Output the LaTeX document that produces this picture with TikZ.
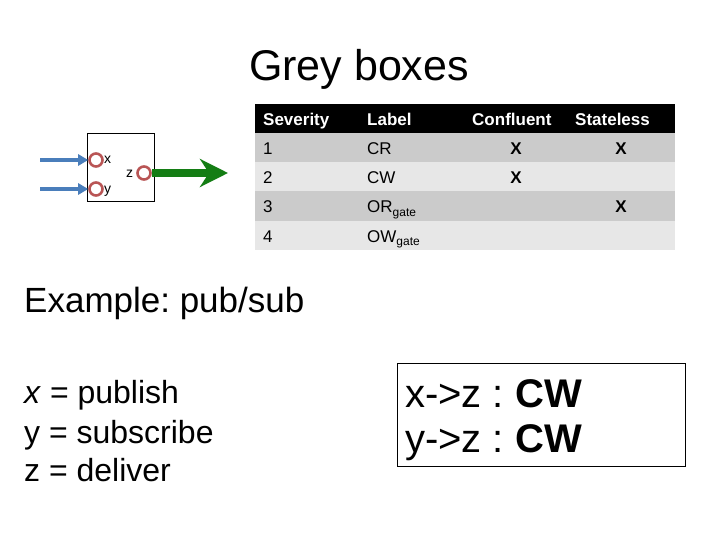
\documentclass[tikz,border=0pt]{standalone}
\usepackage{fontspec}
\setmainfont{Liberation Sans}
\frenchspacing
\usetikzlibrary{arrows.meta}
\definecolor{portred}{RGB}{185,85,85}
\definecolor{arrowblue}{RGB}{74,126,187}
\definecolor{arrowgreen}{RGB}{20,125,20}
\definecolor{rowdark}{RGB}{203,203,203}
\definecolor{rowlight}{RGB}{231,231,231}
\begin{document}
\begin{tikzpicture}[x=1pt,y=-1pt,
  port/.style={circle,draw=portred,line width=2.6pt,fill=white,minimum size=13pt,inner sep=0pt},
  portlbl/.style={font=\fontsize{14}{14}\selectfont,inner sep=0pt,anchor=base west},
  cell/.style={font=\fontsize{17}{17}\selectfont,inner sep=0pt,anchor=base west},
  hcell/.style={font=\fontsize{17}{17}\selectfont\bfseries,inner sep=0pt,anchor=base west,text=white},
  xcell/.style={font=\fontsize{17}{17}\selectfont\bfseries,inner sep=0pt,anchor=base},
  bigtxt/.style={font=\fontsize{32}{32}\selectfont,inner sep=0pt,anchor=base west},
  cwtxt/.style={font=\fontsize{40}{40}\selectfont,inner sep=0pt,anchor=base west}]
\useasboundingbox (0,0) rectangle (720,540);
\fill[white] (0,0) rectangle (720,540);
% title
\node[font=\fontsize{43}{43}\selectfont,inner sep=0pt,anchor=base] (title) at (359,81) {Grey boxes};
% table
\fill[black] (255,104) rectangle (675,133);
\fill[rowdark] (255,133) rectangle (675,162);
\fill[rowlight] (255,162) rectangle (675,191);
\fill[rowdark] (255,191) rectangle (675,221);
\fill[rowlight] (255,221) rectangle (675,250);
\node[hcell] (h1) at (263,126) {Severity};
\node[hcell] (h2) at (367,126) {Label};
\node[hcell] (h3) at (472,126) {Confluent};
\node[hcell] (h4) at (575,126) {Stateless};
\node[cell] (r1a) at (263,155) {1};
\node[cell] (r1b) at (367,155) {CR};
\node[xcell] (r1c) at (516,155) {X};
\node[xcell] (r1d) at (621,155) {X};
\node[cell] (r2a) at (263,184) {2};
\node[cell] (r2b) at (367,184) {CW};
\node[xcell] (r2c) at (516,184) {X};
\node[cell] (r3a) at (263,213) {3};
\node[cell] (r3b) at (367,213) {OR\raisebox{-3pt}{\fontsize{12}{12}\selectfont gate}};
\node[xcell] (r3d) at (621,213) {X};
\node[cell] (r4a) at (263,242) {4};
\node[cell] (r4b) at (367,242) {OW\raisebox{-3pt}{\fontsize{12}{12}\selectfont gate}};
% grey box
\draw[black,line width=0.8pt] (87,133) rectangle (154,201);
\node[port] (px) at (96,160) {};
\node[port] (py) at (96,189) {};
\node[port] (pz) at (144,173) {};
\node[portlbl] (lx) at (104,164) {x};
\node[portlbl] (ly) at (104,194) {y};
\node[portlbl] (lz) at (126,178) {z};
\coordinate (sx) at (40,160);
\coordinate (sy) at (40,189);
\coordinate (gz) at (228,173);
\draw[arrowblue,line width=3.3pt,-{Triangle[length=10pt,width=11pt]}] (sx) -- (px.west);
\draw[arrowblue,line width=3.3pt,-{Triangle[length=10pt,width=11pt]}] (sy) -- (py.west);
\draw[arrowgreen,line width=7.5pt,-{Stealth[length=28pt,width=28pt,inset=9pt]}] (pz.east) -- (gz);
% example
\node[font=\fontsize{35}{35}\selectfont,inner sep=0pt,anchor=base west] (ex) at (24,312) {Example: pub/sub};
\node[bigtxt] (l1) at (24,403) {\textit{x} = publish};
\node[bigtxt] (l2) at (24,443) {y = subscribe};
\node[bigtxt] (l3) at (24,481) {z = deliver};
% result box
\draw[black,line width=0.8pt] (397,363) rectangle (685,466);
\node[cwtxt] (c1) at (405,407) {x->z : \textbf{CW}};
\node[cwtxt] (c2) at (405,452) {y->z : \textbf{CW}};
\end{tikzpicture}
\end{document}
